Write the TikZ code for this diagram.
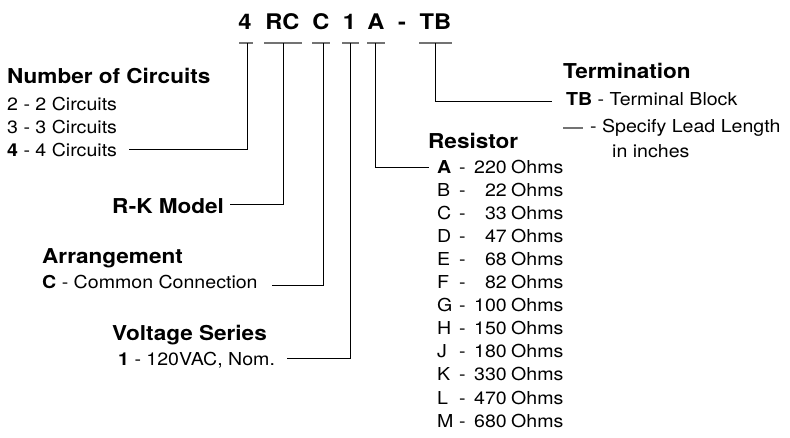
\documentclass[tikz,border=0pt]{standalone}
\usepackage{fontspec}
\setmainfont[FakeStretch=1.1]{TeX Gyre Heros}
\begin{document}
\begin{tikzpicture}[x=1pt,y=-1pt,
  txt/.style={anchor=base west,inner sep=0pt,font=\fontsize{17.8}{20}\selectfont},
  txtr/.style={anchor=base east,inner sep=0pt,font=\fontsize{17.8}{20}\selectfont},
  head/.style={anchor=base west,inner sep=0pt,font=\fontsize{20.5}{24}\selectfont\bfseries},
  code/.style={anchor=base,inner sep=0pt,font=\fontsize{21.5}{25}\selectfont\bfseries},
  bar/.style={draw=black!55,line width=1.5pt},
  conn/.style={draw=black,line width=0.9pt}]
\useasboundingbox (0,0) rectangle (790,437);
% part number
\node[code] (c4) at (245,29) {4};
\node[code] (cRC) at (282.5,29) {RC};
\node[code] (cC) at (321,29) {C};
\node[code] (c1) at (349.5,29) {1};
\node[code] (cA) at (376,29) {A};
\node[code] (cD) at (402,29) {-};
\node[code] (cTB) at (435.5,29) {TB};
% bars
\path[bar] (239,43) -- (253,43);
\path[bar] (264,43) -- (302,43);
\path[bar] (312,43) -- (330,43);
\path[bar] (342,43) -- (359,43);
\path[bar] (367,43) -- (385,43);
\path[bar] (419,43) -- (452,43);
\coordinate (b4) at (247,43);
\coordinate (bRC) at (283,43);
\coordinate (bC) at (323,43);
\coordinate (b1) at (350,43);
\coordinate (bA) at (375,43);
\coordinate (bTB) at (435,43);
% Number of circuits
\node[head] (hN) at (7,83) {Number of Circuits};
\node[txt] (n2) at (7,110) {2 - 2 Circuits};
\node[txt] (n3) at (7,133.3) {3 - 3 Circuits};
\node[txt] (n4) at (7,156.6) {\textbf{4} - 4 Circuits};
\coordinate (s4) at (129,149);
\path[conn] (b4) |- (s4);
% R-K Model
\node[head] (hRK) at (112,213) {R-K Model};
\coordinate (sRC) at (230,204);
\path[conn] (bRC) |- (sRC);
% Arrangement
\node[head] (hAr) at (42,263) {Arrangement};
\node[txt] (aC) at (42,288.5) {\textbf{C} - Common Connection};
\coordinate (sC) at (272,285);
\path[conn] (bC) |- (sC);
% Voltage Series
\node[head] (hV) at (112,340) {Voltage Series};
\node[txt] (v1) at (118,365) {\textbf{1} - 120VAC, Nom.};
\coordinate (s1) at (287,358);
\path[conn] (b1) |- (s1);
% Termination
\node[head] (hT) at (563,78) {Termination};
\node[txt] (tTB) at (566,105) {\textbf{TB} - Terminal Block};
\path[bar] (563,128) -- (583,128);
\node[txt] (tL) at (590,132) {- Specify Lead Length};
\node[txt] (tI) at (612,157) {in inches};
\coordinate (sTB) at (552,101);
\path[conn] (bTB) |- (sTB);
% Resistor
\node[head] (hR) at (428,148) {Resistor};
\foreach \L/\V [count=\i from 0] in {{\textbf{A}}/220,B/22,C/33,D/47,E/68,F/82,G/100,H/150,J/180,K/330,L/470,M/680}{
  \node[txt] (rl\i) at (437,173+23.1*\i) {\L};
  \node[txt] (rd\i) at (459,173+23.1*\i) {-};
  \node[txtr] (rv\i) at (507,173+23.1*\i) {\V};
  \node[txt] (ro\i) at (511,173+23.1*\i) {Ohms};
}
\coordinate (sA) at (429,167);
\path[conn] (bA) |- (sA);
\end{tikzpicture}
\end{document}
